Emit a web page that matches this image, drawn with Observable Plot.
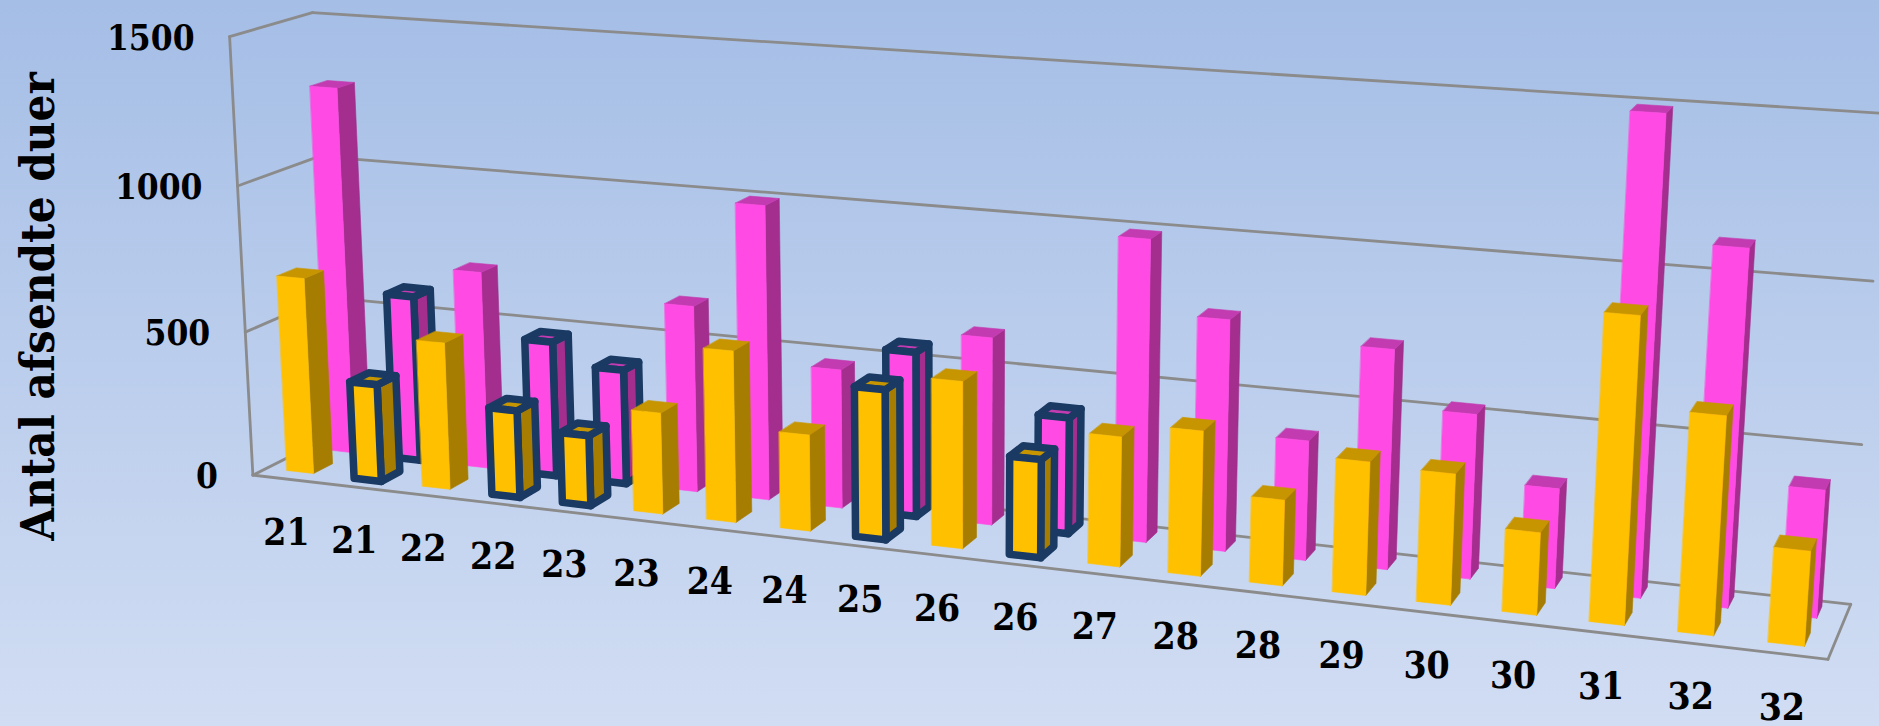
<!DOCTYPE html>
<html><head><meta charset="utf-8">
<script src="https://cdn.jsdelivr.net/npm/d3@7"></script>
<script src="https://cdn.jsdelivr.net/npm/@observablehq/plot@0.6"></script>
<style>
html,body{margin:0;padding:0;width:1879px;height:726px;overflow:hidden;background:linear-gradient(180deg,#a5bee6 0%,#d1ddf3 100%)}
svg{display:block;background:transparent!important}
</style></head><body><div id="chart"></div>
<script>
const categories=["21","21","22","22","23","23","24","24","25","26","26","27","28","28","29","30","30","31","32","32"];
const frontSeries=[680,337,505,298,239,342,574,321,496,548,321,421,466,274,422,412,258,945,670,290];
const backSeries=[1279,578,685,467,394,636,995,469,552,624,385,988,753,389,706,526,318,1490,1108,398];
const highlightedFront=[1,3,4,8,10];
const highlightedBack=[1,3,4,8,10];
const yTicks=[0,500,1000,1500];
const yMax=1500;
const yTitle="Antal afsendte duer";

// 3D view of the chart box: category axis u, depth d, value h (all 0-1) -> picture position
const calibration=[
 [0,0,0,255,474.6],[0,0,1/3,248,331],[0,0,2/3,238,185],[0,0,1,227,36],[0,0,1,227,36],[0,0,1,227,36],[0,0,1,227,36],
 [0,1,0,327,436],[0,1,1/3,322,296],[0,1,2/3,317.5,155],[0,1,1,314,12.5],[0,1,1,314,12.5],[0,1,1,314,12.5],[0,1,1,314,12.5],
 [1,1,0,1851,602],[1,1,1/3,1861.6,444],[1,1,2/3,1872,280.6],[1,1,1,1884,113],
 [1,0,0,1827,660],
 [.025,.17,0,302,471.5],[.475,.17,0,946.7,546.5],[.975,.17,0,1785.5,644.5]
];
function solve(A,b){const n=b.length;const M=A.map((r,i)=>[...r,b[i]]);
 for(let c=0;c<n;c++){let p=c;for(let r=c+1;r<n;r++)if(Math.abs(M[r][c])>Math.abs(M[p][c]))p=r;
  [M[c],M[p]]=[M[p],M[c]];
  for(let r=0;r<n;r++){if(r===c)continue;const f=M[r][c]/M[c][c];for(let k=c;k<=n;k++)M[r][k]-=f*M[c][k];}}
 return M.map((r,i)=>r[n]/r[i]);}
const rowsA=[],rowsB=[];
for(const [u,d,h,x,y] of calibration){const X=x/1000,Y=y/1000;
 rowsA.push([u,d,h,1,0,0,0,0,-X*u,-X*d,-X*h]);rowsB.push(X);
 rowsA.push([0,0,0,0,u,d,h,1,-Y*u,-Y*d,-Y*h]);rowsB.push(Y);}
const AtA=d3.range(11).map(i=>d3.range(11).map(j=>d3.sum(rowsA,r=>r[i]*r[j])));
const Atb=d3.range(11).map(i=>d3.sum(rowsA,(r,k)=>r[i]*rowsB[k]));
const p=solve(AtA,Atb);
function proj(u,d,h){const w=p[8]*u+p[9]*d+p[10]*h+1;
 return {x:1000*(p[0]*u+p[1]*d+p[2]*h+p[3])/w,y:1000*(p[4]*u+p[5]*d+p[6]*h+p[7])/w};}

const gridColor="#8b8b8b";
const gridMarks=[];
function seg(a,b){gridMarks.push(Plot.line([proj(...a),proj(...b)],{x:"x",y:"y",stroke:gridColor,strokeWidth:2.8}));}
for(const t of yTicks){const h=t/yMax;seg([0,0,h],[0,1,h]);seg([0,1,h],[1,1,h]);}
seg([0,0,0],[0,0,1]);seg([0,0,0],[1,0,0]);seg([1,0,0],[1,1,0]);

const n=categories.length,barW=.4/n;
function barMarks(i,v,d0,d1,cols,boxed){
 const u0=(i+.5)/n-barW/2,u1=(i+.5)/n+barW/2,h=v/yMax;
 const faces=[
  [cols.side,[[u1,d0,0],[u1,d1,0],[u1,d1,h],[u1,d0,h]]],
  [cols.top,[[u0,d0,h],[u1,d0,h],[u1,d1,h],[u0,d1,h]]],
  [cols.front,[[u0,d0,0],[u1,d0,0],[u1,d0,h],[u0,d0,h]]]
 ];
 return faces.map(([c,q])=>Plot.line(q.map(a=>proj(...a)),{x:"x",y:"y",curve:"linear-closed",fill:c,
   stroke:boxed?"#1a3a63":c,strokeWidth:boxed?7.5:.6,strokeLinejoin:"round"}));
}
const pink={front:"#ff4be3",side:"#a32e8e",top:"#c33bb0"};
const gold={front:"#ffc000",side:"#a67d00",top:"#c79500"};
const backMarks=backSeries.flatMap((v,i)=>barMarks(i,v,.68,.9,pink,highlightedBack.includes(i)));
const frontMarks=frontSeries.flatMap((v,i)=>barMarks(i,v,.17,.41,gold,highlightedFront.includes(i)));

const font={fontFamily:"'DejaVu Serif Condensed','DejaVu Serif',serif",fontWeight:"bold",fill:"#000"};
const yLabels=yTicks.map(t=>({t,...proj(0,0,t/yMax)}));
const xLabels=categories.map((c,i)=>({c,...proj((i+.5)/n,0,0)}));

const chart=Plot.plot({width:1879,height:726,margin:0,
 x:{domain:[0,1879],range:[0,1879],axis:null},
 y:{domain:[0,726],range:[0,726],axis:null},
 style:{background:"transparent"},
 marks:[...gridMarks,...backMarks,...frontMarks,
  Plot.text(yLabels,{x:"x",y:"y",text:d=>String(d.t),textAnchor:"end",dx:-35,dy:2,fontSize:35,...font}),
  Plot.text(xLabels,{x:"x",y:"y",text:"c",dx:0,dy:54,fontSize:37,...font}),
  Plot.text([yTitle],{frameAnchor:"top-left",dx:20,dy:306,rotate:-90,textAnchor:"middle",fontSize:47,...font})
 ]});
document.getElementById("chart").append(chart);
</script></body></html>
